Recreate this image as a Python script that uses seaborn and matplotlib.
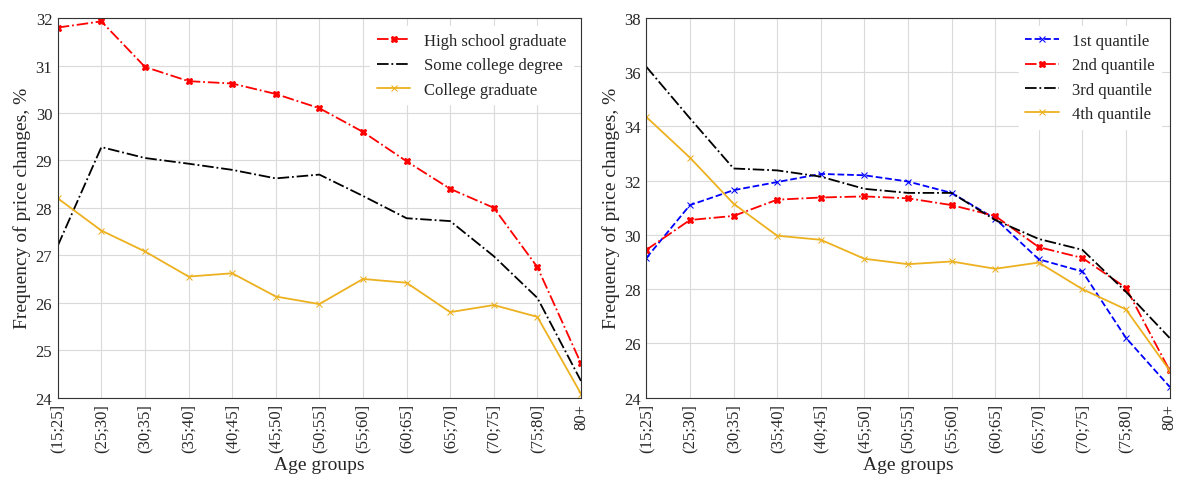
import matplotlib
matplotlib.use("Agg")
import matplotlib.pyplot as plt
import seaborn as sns
import pandas as pd

sns.set_theme(style="whitegrid")
plt.rcParams['font.family'] = ['Liberation Serif', 'DejaVu Serif']

ages = ["(15;25]", "(25;30]", "(30;35]", "(35;40]", "(40;45]", "(45;50]", "(50;55]",
        "(55;60]", "(60;65]", "(65;70]", "(70;75]", "(75;80]", "80+"]
high_school = [31.8, 31.93, 30.97, 30.67, 30.62, 30.4, 30.1, 29.6, 28.98, 28.4, 28.0, 26.75, 24.72]
some_college = [27.2, 29.28, 29.05, 28.93, 28.8, 28.62, 28.7, 28.25, 27.78, 27.72, 26.98, 26.1, 24.35]
college = [28.2, 27.52, 27.08, 26.55, 26.62, 26.13, 25.97, 26.5, 26.42, 25.8, 25.95, 25.7, 24.08]
q1 = [29.15, 31.1, 31.65, 31.95, 32.25, 32.2, 31.97, 31.55, 30.6, 29.1, 28.65, 26.2, 24.4]
q2 = [29.45, 30.55, 30.7, 31.3, 31.38, 31.42, 31.35, 31.1, 30.7, 29.55, 29.15, 28.05, 25.0]
q3 = [36.2, 34.3, 32.45, 32.38, 32.15, 31.7, 31.55, 31.55, 30.55, 29.85, 29.45, 27.9, 26.2]
q4 = [34.35, 32.85, 31.15, 29.97, 29.82, 29.12, 28.92, 29.02, 28.75, 28.98, 28.0, 27.25, 25.0]

RED, BLK, GOLD, BLUE = "#FF0000", "#000000", "#EDB120", "#0000FF"
fig, axes = plt.subplots(1, 2, figsize=(11.79, 4.89), dpi=100)
fig.subplots_adjust(left=0.049, right=0.992, bottom=0.185, top=0.961, wspace=0.125)

def draw(ax, series, ylim, yticks):
    x = list(range(len(ages)))
    for label, vals, color, ls, marker in series:
        df = pd.DataFrame({"x": x, "y": vals})
        sns.lineplot(data=df, x="x", y="y", ax=ax, color=color, linestyle=ls,
                     marker=marker, markersize=5, markeredgecolor=color,
                     linewidth=1.3, label=label)
    ax.set_xlim(0, len(ages) - 1)
    ax.set_ylim(*ylim)
    ax.set_yticks(yticks)
    ax.set_xticks(x)
    ax.set_xticklabels(ages, rotation=90, fontsize=12)
    ax.tick_params(axis='both', labelsize=12, pad=4, length=0)
    ax.set_xlabel("Age groups", fontsize=14, labelpad=3)
    ax.set_ylabel("Frequency of price changes, %", fontsize=14, labelpad=3)
    ax.grid(True, color="#DADADA", linewidth=0.8)
    for s in ax.spines.values():
        s.set_color("#333333"); s.set_linewidth(0.8)
    ax.legend(loc="upper right", fontsize=12, frameon=True, fancybox=False,
              edgecolor="white", framealpha=1)

draw(axes[0], [("High school graduate", high_school, RED, "-.", "X"),
               ("Some college degree", some_college, BLK, "-.", None),
               ("College graduate", college, GOLD, "-", "x")],
     (24, 32), range(24, 33))
draw(axes[1], [("1st quantile", q1, BLUE, "--", "x"),
               ("2nd quantile", q2, RED, "-.", "X"),
               ("3rd quantile", q3, BLK, "-.", None),
               ("4th quantile", q4, GOLD, "-", "x")],
     (24, 38), range(24, 39, 2))

fig.savefig("out.png", dpi=100)
